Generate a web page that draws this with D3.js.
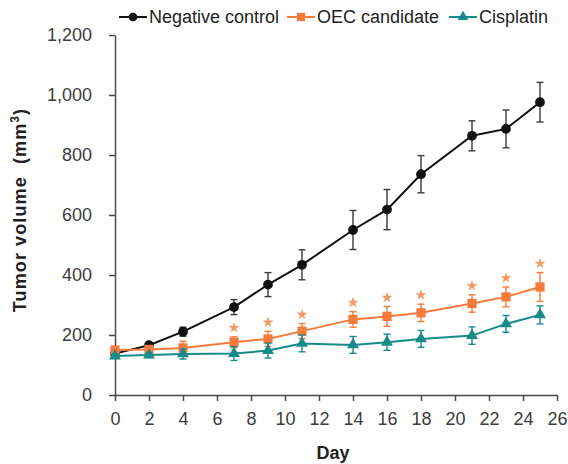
<!DOCTYPE html>
<html>
<head>
<meta charset="utf-8">
<script src="https://cdn.jsdelivr.net/npm/d3@7"></script>
<style>
  html, body { margin: 0; padding: 0; background: #fff; }
  svg { display: block; font-family: "Liberation Sans", Arial, sans-serif; }
</style>
</head>
<body>
<svg id="chart" width="568" height="464"></svg>
<script>
// ---- data ----
const days = [0, 2, 4, 7, 9, 11, 14, 16, 18, 21, 23, 25];
const negative = [138, 166, 211, 293, 368, 434, 550, 618, 736, 864, 887, 976];
const negativeErr = [5, 8, 15, 25, 40, 50, 65, 67, 62, 50, 63, 66];
const oec = [150, 152, 157, 176, 187, 213, 252, 262, 274, 305, 327, 360];
const oecErr = [8, 10, 22, 18, 25, 25, 26, 33, 29, 29, 33, 48];
const cisplatin = [130, 133, 137, 138, 148, 172, 167, 176, 187, 198, 237, 267];
const cisplatinErr = [5, 8, 17, 23, 25, 28, 28, 27, 28, 29, 28, 30];
const oecSignificant = [false, false, false, true, true, true, true, true, true, true, true, true];
const xTicks = [0, 2, 4, 6, 8, 10, 12, 14, 16, 18, 20, 22, 24, 26];
const yTicks = [0, 200, 400, 600, 800, 1000, 1200];
const seriesNames = ["Negative control", "OEC candidate", "Cisplatin"];

const svg = d3.select("#chart");
const x = d3.scaleLinear().domain([0, 26]).range([115, 557]);
const y = d3.scaleLinear().domain([0, 1200]).range([395, 35]);

const series = [
  { name: seriesNames[0], values: negative, err: negativeErr, color: "#111111", errColor: "#3a3a3a", symbol: d3.symbolCircle, size: 75 },
  { name: seriesNames[1], values: oec, err: oecErr, color: "#F47B3B", errColor: "#F47B3B", symbol: d3.symbolSquare, size: 85 },
  { name: seriesNames[2], values: cisplatin, err: cisplatinErr, color: "#168C8A", errColor: "#168C8A", symbol: d3.symbolTriangle, size: 62 }
];

// ---- axes ----
const axisColor = "#4a4a4a";
const yAxis = d3.axisLeft(y).tickValues(yTicks).tickFormat(d3.format(",")).tickSize(6).tickSizeOuter(0).tickPadding(17);
const xAxis = d3.axisBottom(x).tickValues(xTicks).tickSize(6).tickSizeOuter(0).tickPadding(11);

const gy = svg.append("g").attr("transform", "translate(115,0)").call(yAxis);
const gx = svg.append("g").attr("transform", "translate(0,395)").call(xAxis);
[gx, gy].forEach(g => {
  g.select(".domain").attr("stroke", axisColor).attr("stroke-width", 1.5);
  g.selectAll(".tick line").attr("stroke", axisColor).attr("stroke-width", 1.5);
  g.selectAll(".tick text").attr("fill", "#3c3c3c").style("font-size", "18px").style("font-family", "'Liberation Sans', Arial, sans-serif");
});

// ---- series ----
const line = d3.line().x((d, i) => x(days[i])).y(d => y(d));
series.forEach(s => {
  const g = svg.append("g");
  // error bars
  s.values.forEach((v, i) => {
    const e = s.err[i];
    const cx = x(days[i]);
    g.append("line").attr("x1", cx).attr("x2", cx).attr("y1", y(v - e)).attr("y2", y(v + e))
      .attr("stroke", s.errColor).attr("stroke-width", 1.4);
    [v - e, v + e].forEach(t => {
      g.append("line").attr("x1", cx - 3.5).attr("x2", cx + 3.5).attr("y1", y(t)).attr("y2", y(t))
        .attr("stroke", s.errColor).attr("stroke-width", 1.4);
    });
  });
  g.append("path").datum(s.values).attr("d", line).attr("fill", "none")
    .attr("stroke", s.color).attr("stroke-width", 2);
  g.selectAll(".m").data(s.values).enter().append("path")
    .attr("d", d3.symbol().type(s.symbol).size(s.size))
    .attr("transform", (d, i) => `translate(${x(days[i])},${y(d)})`)
    .attr("fill", s.color);
});

// significance stars
svg.append("g").selectAll("path").data(oec.map((v, i) => ({ v, i })).filter(d => oecSignificant[d.i]))
  .enter().append("path")
  .attr("d", d3.symbol().type(d3.symbolStar).size(38))
  .attr("transform", d => `translate(${x(days[d.i])},${y(d.v + oecErr[d.i]) - 9})`)
  .attr("fill", "#F29A63");

// ---- axis titles ----
svg.append("text").attr("x", 333).attr("y", 459).attr("text-anchor", "middle")
  .style("font-size", "18px").style("font-weight", "bold").attr("fill", "#222").text("Day");

const yt = svg.append("text").attr("transform", "translate(26,210) rotate(-90)").attr("text-anchor", "middle")
  .style("font-size", "18px").style("font-weight", "bold").style("letter-spacing", "1.1px")
  .style("white-space", "pre").attr("fill", "#222");
yt.append("tspan").text("Tumor volume  (mm");
yt.append("tspan").attr("dy", -7).style("font-size", "12px").text("3");
yt.append("tspan").attr("dy", 7).text(")");

// ---- legend ----
const legendStarts = [119, 287, 449];
const ly = 17;
series.forEach((s, k) => {
  const lx = legendStarts[k];
  const g = svg.append("g");
  g.append("line").attr("x1", lx).attr("x2", lx + 28).attr("y1", ly).attr("y2", ly)
    .attr("stroke", s.color).attr("stroke-width", 2);
  g.append("path").attr("d", d3.symbol().type(s.symbol).size(s.size * 0.8))
    .attr("transform", `translate(${lx + 14},${ly})`).attr("fill", s.color);
  g.append("text").attr("x", lx + 30).attr("y", ly).attr("dy", "0.35em")
    .style("font-size", "18px").attr("fill", "#222").text(s.name);
});
</script>
</body>
</html>
